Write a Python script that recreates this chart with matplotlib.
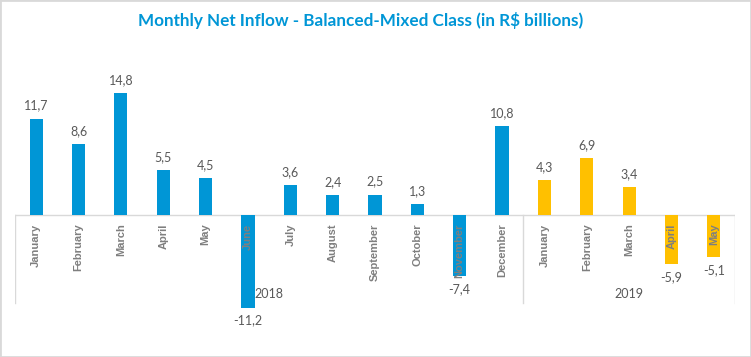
import matplotlib.pyplot as plt
from matplotlib.patches import Rectangle

months = ['January', 'February', 'March', 'April', 'May', 'June', 'July', 'August',
          'September', 'October', 'November', 'December',
          'January', 'February', 'March', 'April', 'May']
years = ['2018', '2019']
year_sizes = [12, 5]
values = [11.7, 8.6, 14.8, 5.5, 4.5, -11.2, 3.6, 2.4, 2.5, 1.3, -7.4, 10.8,
          4.3, 6.9, 3.4, -5.9, -5.1]

blue = '#0096d6'
yellow = '#ffc000'
gray_txt = '#7f7f7f'
num_txt = '#595959'
line_c = '#d9d9d9'

fig = plt.figure(figsize=(7.51, 3.57), dpi=100)
ax = fig.add_axes([15 / 751, (357 - 315) / 357, 720 / 751, 255 / 357])

x = list(range(len(values)))
colors = [blue] * year_sizes[0] + [yellow] * year_sizes[1]
ax.bar(x, values, width=0.31, color=colors, zorder=2)

ax.set_xlim(-0.5, len(values) - 0.5)
ax.set_ylim(-12.1, 18.8)
ax.axis('off')

# baseline and group separators
ax.plot([-0.5, len(values) - 0.5], [0, 0], color=line_c, lw=1, zorder=1)
sep = [-0.5]
for n in year_sizes:
    sep.append(sep[-1] + n)
for s in sep:
    ax.plot([s, s], [0, -10.7], color=line_c, lw=1, zorder=1)

# value labels
for xi, v in zip(x, values):
    lbl = f'{v:.1f}'.replace('.', ',')
    if v >= 0:
        ax.annotate(lbl, (xi, v), xytext=(0, 5), textcoords='offset points',
                    ha='center', va='bottom', fontsize=9, color=num_txt,
                    family='Lato')
    else:
        ax.annotate(lbl, (xi, v), xytext=(0, -5), textcoords='offset points',
                    ha='center', va='top', fontsize=9, color=num_txt,
                    family='Lato')

# month labels
for xi, m in zip(x, months):
    ax.annotate(m, (xi, 0), xytext=(0, -6), textcoords='offset points',
                ha='center', va='top', rotation=90, fontsize=8,
                fontweight='bold', color=gray_txt, family='Liberation Sans',
                zorder=3)

# year labels
for i, yr in enumerate(years):
    cx = (sep[i] + sep[i + 1]) / 2
    ax.text(cx, -9.6, yr, ha='center', va='center', fontsize=9,
            color=num_txt, family='Lato')

fig.text(0.48, 0.943, 'Monthly Net Inflow - Balanced-Mixed Class (in R$ billions)',
         ha='center', va='center', fontsize=12.3, fontweight='bold',
         color=blue, family='Lato')

fig.patches.append(Rectangle((0, 0), 1, 1, transform=fig.transFigure,
                             fill=False, edgecolor=line_c, lw=2))

fig.savefig('out.png', dpi=100)
